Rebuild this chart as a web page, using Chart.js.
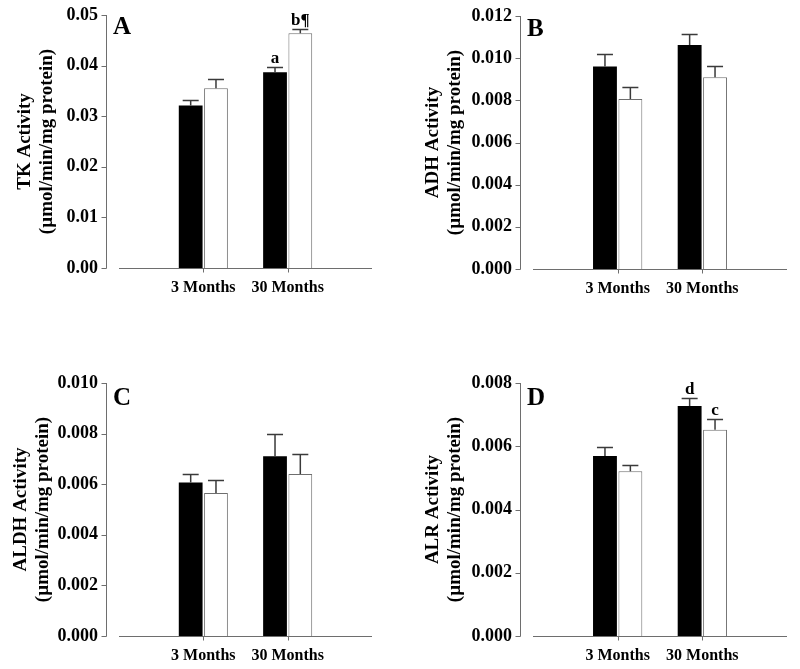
<!DOCTYPE html>
<html>
<head>
<meta charset="utf-8">
<script src="https://cdn.jsdelivr.net/npm/chart.js@4.4.1/dist/chart.umd.min.js"></script>
<style>
  body { margin:0; background:#fff; }
  #wrap { position:relative; width:800px; height:669px; }
  canvas { position:absolute; }
</style>
</head>
<body>
<div id="wrap">
  <canvas id="chartA" width="400" height="334" style="left:0;top:0"></canvas>
  <canvas id="chartB" width="400" height="334" style="left:400px;top:0"></canvas>
  <canvas id="chartC" width="400" height="335" style="left:0;top:334px"></canvas>
  <canvas id="chartD" width="400" height="335" style="left:400px;top:334px"></canvas>
</div>
<script>
// categories (blank ends keep the SigmaPlot-like spacing)
const labels = ["", "3 Months", "30 Months", ""];

// A: TK
const tkBlack    = [null, 0.0321, 0.0387, null];
const tkWhite    = [null, 0.0355, 0.0464, null];
const tkBlackErr = [0, 0.0012, 0.0011, 0];
const tkWhiteErr = [0, 0.0018, 0.0008, 0];
const tkBlackNote = ["", "", "a", ""];
const tkWhiteNote = ["", "", "b¶", ""];

// B: ADH
const adhBlack    = [null, 0.00961, 0.01063, null];
const adhWhite    = [null, 0.00806, 0.00910, null];
const adhBlackErr = [0, 0.00061, 0.00052, 0];
const adhWhiteErr = [0, 0.00055, 0.00055, 0];

// C: ALDH
const aldhBlack    = [null, 0.00607, 0.00710, null];
const aldhWhite    = [null, 0.00565, 0.00640, null];
const aldhBlackErr = [0, 0.00034, 0.00090, 0];
const aldhWhiteErr = [0, 0.00050, 0.00079, 0];

// D: ALR
const alrBlack    = [null, 0.00569, 0.00727, null];
const alrWhite    = [null, 0.00521, 0.00652, null];
const alrBlackErr = [0, 0.00030, 0.00027, 0];
const alrWhiteErr = [0, 0.00020, 0.00034, 0];
const alrBlackNote = ["", "", "d", ""];
const alrWhiteNote = ["", "", "c", ""];

const noNotes = ["", "", "", ""];
const serif = "'Liberation Serif','Times New Roman',serif";
const axisGrey = "#6e6e6e";

// draws offset axes, error bars, notes and the panel letter
const sigmaPlugin = {
  id: "sigma",
  afterDatasetsDraw(chart, args, o) {
    const ctx = chart.ctx, a = chart.chartArea, x = chart.scales.x, y = chart.scales.y;
    const y0 = Math.round(y.getPixelForValue(0)) + 0.5;
    const yTop = y.getPixelForValue(y.max);
    const ax = Math.round(a.left - o.gap) + 0.5;
    ctx.save();
    ctx.strokeStyle = axisGrey; ctx.lineWidth = 1;
    ctx.beginPath();
    ctx.moveTo(ax, yTop); ctx.lineTo(ax, y0);
    y.ticks.forEach(t => {
      const py = Math.round(y.getPixelForValue(t.value)) + 0.5;
      ctx.moveTo(ax - 5, py); ctx.lineTo(ax, py);
    });
    ctx.moveTo(a.left, y0); ctx.lineTo(a.right, y0);
    for (let i=1;i<labels.length-1;++i) {
      const px = Math.round(x.getPixelForValue(i)) + 0.5;
      ctx.moveTo(px, y0); ctx.lineTo(px, y0 + 4);
    }
    ctx.stroke();

    ctx.strokeStyle = "#3a3a3a"; ctx.lineWidth = 1.5;
    ctx.fillStyle = "#000";
    ctx.font = "bold 17px " + serif;
    ctx.textAlign = "center"; ctx.textBaseline = "alphabetic";
    chart.data.datasets.forEach((ds, di) => {
      const meta = chart.getDatasetMeta(di);
      meta.data.forEach((bar, i) => {
        const v = ds.data[i];
        if (v == null) return;
        const top = Math.round(y.getPixelForValue(v + ds.errors[i])) + 0.5;
        ctx.beginPath();
        ctx.moveTo(bar.x, bar.y); ctx.lineTo(bar.x, top);
        ctx.moveTo(bar.x - 8, top); ctx.lineTo(bar.x + 8, top);
        ctx.stroke();
        if (ds.notes[i]) ctx.fillText(ds.notes[i], bar.x, top - 5);
      });
    });

    ctx.font = "bold 25px " + serif;
    ctx.textAlign = "left";
    ctx.fillText(o.letter, a.left + o.letterX, a.top + o.letterY);
    ctx.restore();
  }
};

function makePanel(id, p, black, white, blackErr, whiteErr, blackNote, whiteNote, ymax, step, digits, title) {
  const cv = document.getElementById(id);
  const xH = 40;
  return new Chart(cv, {
    type: "bar",
    data: {
      labels: labels,
      datasets: [
        { data: black, errors: blackErr, notes: blackNote, backgroundColor: "#000", borderWidth: 0,
          categoryPercentage: 0.6, barPercentage: 0.94 },
        { data: white, errors: whiteErr, notes: whiteNote, backgroundColor: "#fff", borderColor: axisGrey, borderWidth: 1,
          categoryPercentage: 0.6, barPercentage: 0.94 }
      ]
    },
    options: {
      responsive: false,
      animation: false,
      layout: { padding: { left: 0, top: p.top, right: cv.width - p.right, bottom: cv.height - p.bottom - xH } },
      scales: {
        x: {
          offset: false,
          afterFit: s => { s.height = xH; },
          border: { display: false },
          grid: { display: false, drawTicks: false },
          ticks: { padding: 10, color: "#000", autoSkip: false, maxRotation: 0, font: { family: serif, size: 16, weight: "bold" } }
        },
        y: {
          min: 0, max: ymax,
          afterFit: s => { s.width = p.left; },
          border: { display: false },
          // hidden tick length stands in for label padding so the top padding stays small
          grid: { display: false, drawTicks: true, tickLength: 21 },
          ticks: { stepSize: step, padding: 0, color: "#000", font: { family: serif, size: 18, weight: "bold" },
                   callback: v => v.toFixed(digits) },
          title: { display: true, text: title, color: "#000", padding: { top: p.titlePad, bottom: 0 },
                   font: { family: serif, size: 19, weight: "bold", lineHeight: 1.15 } }
        }
      },
      plugins: {
        legend: { display: false },
        tooltip: { enabled: false },
        sigma: { gap: 13, letter: p.letter, letterX: -6, letterY: p.letterY }
      }
    },
    plugins: [sigmaPlugin]
  });
}

makePanel("chartA", {left:119, right:372, top:15, bottom:268, titlePad:14, letter:"A", letterY:19},
  tkBlack, tkWhite, tkBlackErr, tkWhiteErr, tkBlackNote, tkWhiteNote, 0.05, 0.01, 2,
  ["TK Activity", "(µmol/min/mg protein)"]);
makePanel("chartB", {left:133, right:387, top:16, bottom:269, titlePad:22, letter:"B", letterY:20},
  adhBlack, adhWhite, adhBlackErr, adhWhiteErr, noNotes, noNotes, 0.012, 0.002, 3,
  ["ADH Activity", "(µmol/min/mg protein)"]);
makePanel("chartC", {left:119, right:372, top:49, bottom:302, titlePad:10, letter:"C", letterY:22},
  aldhBlack, aldhWhite, aldhBlackErr, aldhWhiteErr, noNotes, noNotes, 0.010, 0.002, 3,
  ["ALDH Activity", "(µmol/min/mg protein)"]);
makePanel("chartD", {left:133, right:387, top:49, bottom:302, titlePad:22, letter:"D", letterY:22},
  alrBlack, alrWhite, alrBlackErr, alrWhiteErr, alrBlackNote, alrWhiteNote, 0.008, 0.002, 3,
  ["ALR Activity", "(µmol/min/mg protein)"]);
</script>
</body>
</html>
